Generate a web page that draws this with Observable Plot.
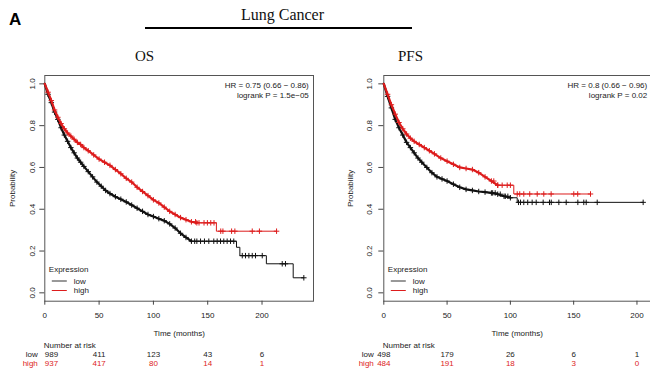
<!DOCTYPE html>
<html><head><meta charset="utf-8">
<script src="https://cdn.jsdelivr.net/npm/d3@7"></script>
<script src="https://cdn.jsdelivr.net/npm/@observablehq/plot@0.6"></script>
<style>
body{margin:0;background:#fff;}
#wrap{position:relative;width:650px;height:370px;overflow:hidden;background:#fff;}
#left,#right,#head{position:absolute;}
#left{left:0;top:60px;}
#right{left:320px;top:60px;}
#head{left:0;top:0;z-index:5;}
</style></head><body>
<div id="wrap"><div id="left"></div><div id="right"></div><svg id="head" width="650" height="64"></svg></div>
<script>
// ---------- data ----------
const xTicks = [0, 50, 100, 150, 200];
const yTicks = [0, 0.2, 0.4, 0.6, 0.8, 1.0];
const riskTimes = [0, 50, 100, 150, 200];
const groups = ["low", "high"];

// OS (overall survival)
const osLowT = [0,3,6,9,12,15,18,21,24,27,30,33,36,40,44,48,52,56,60,65,70,75,80,85,90,95,100,105,110,115,120,125,130,135,176.5,179.6,204,228.7,238.5];
const osLowS = [1.0,0.95,0.91,0.865,0.83,0.79,0.755,0.725,0.695,0.67,0.645,0.625,0.605,0.58,0.555,0.53,0.51,0.49,0.475,0.46,0.448,0.435,0.42,0.405,0.39,0.375,0.365,0.355,0.345,0.33,0.31,0.285,0.265,0.247,0.218,0.178,0.139,0.072,0.072];
const osLowCens = [138,140,143.4,147,151,155.6,158.7,161.8,164.8,167.9,171,174,181.8,184.8,187.9,191,194,200.2,218.6,221.6,238.5];
const osHighT = [0,3,6,9,12,15,18,21,24,27,30,33,36,40,45,50,55,60,65,70,75,80,85,90,95,100,105,110,115,120,125,130,135,140,158,213.4];
const osHighS = [1.0,0.96,0.92,0.875,0.84,0.81,0.785,0.765,0.75,0.735,0.72,0.71,0.695,0.68,0.66,0.64,0.625,0.61,0.59,0.57,0.548,0.53,0.505,0.485,0.465,0.445,0.43,0.41,0.39,0.375,0.36,0.35,0.34,0.335,0.295,0.295];
const osHighCens = [138.8,142,146.6,149.7,152.8,155.8,162,164,172,175,191,197.6,213.4];
const osRiskLow = [989, 411, 123, 43, 6];
const osRiskHigh = [937, 417, 80, 14, 1];
const osHR = "HR = 0.75 (0.66 \u2212 0.86)";
const osP = "logrank P = 1.5e\u221205";

// PFS (progression-free survival)
const pfsLowT = [0,3,6,9,12,15,18,21,24,27,30,34,38,42,46,50,55,60,65,70,75,80,85,90,95,100,105.4,204.9];
const pfsLowS = [1.0,0.94,0.885,0.83,0.79,0.755,0.72,0.695,0.67,0.645,0.625,0.6,0.575,0.555,0.545,0.535,0.52,0.505,0.495,0.49,0.485,0.482,0.478,0.472,0.462,0.455,0.433,0.433];
const pfsLowCens = [86,88,92,96,98,106.4,108,110.6,113.7,117.2,120.4,125.9,130.9,132.3,138.3,144.1,153.3,158,159.9,168.6,204.9];
const pfsHighT = [0,3,6,9,12,15,18,21,24,28,32,36,40,45,50,55,60,65,70,75,80,85,90,102.7,163.3];
const pfsHighS = [1.0,0.95,0.9,0.855,0.815,0.785,0.76,0.74,0.725,0.71,0.695,0.68,0.665,0.645,0.63,0.615,0.6,0.595,0.59,0.575,0.555,0.535,0.515,0.473,0.473];
const pfsHighCens = [86.9,90,93.5,97.5,100,105.4,107.4,110.6,115.3,121.2,126.4,132.2,150.1,153.2,163.3];
const pfsRiskLow = [498, 179, 26, 6, 1];
const pfsRiskHigh = [484, 191, 18, 3, 0];
const pfsHR = "HR = 0.8 (0.66 \u2212 0.96)";
const pfsP = "logrank P = 0.02";

// ---------- styling ----------
const FONT = "'Liberation Sans', Arial, Helvetica, sans-serif";
const BLACK = "#111";
const RED = "#dd1c1c";

function stepAt(T, S, t) { let v = S[0]; for (let i = 0; i < T.length; i++) { if (T[i] <= t) v = S[i]; else break; } return v; }

function km(el, cfg) {
  const curve = (T, S) => T.map((t, i) => ({t, s: S[i]}));
  const low = curve(cfg.lowT, cfg.lowS), high = curve(cfg.highT, cfg.highS);
  const head = (c, m) => c.filter(d => d.t <= m);
  const tail = (c, m) => c.filter(d => d.t >= m);
  const dense = (c, m) => c.filter((d, i) => i > 0 && d.t <= m);
  const cens = (C, T, S) => C.map(t => ({t, s: stepAt(T, S, t)}));
  const lowC = dense(low, cfg.lowDense).concat(cens(cfg.lowCens, cfg.lowT, cfg.lowS));
  const highC = dense(high, cfg.highDense).concat(cens(cfg.highCens, cfg.highT, cfg.highS));
  const rows = (arr) => riskTimes.map((t, i) => ({t, n: arr[i], i}));
  const rLow = rows(cfg.riskLow), rHigh = rows(cfg.riskHigh);
  const H = 310, mt = 15, mb = 69.3;
  const T8 = {fontSize: 8, fill: "#222", lineAnchor: "middle"};
  const chart = Plot.plot({
    width: cfg.width, height: H,
    marginLeft: cfg.ml, marginRight: cfg.mr, marginTop: mt, marginBottom: mb,
    style: {fontFamily: FONT, fontSize: "8px", color: "#222", background: "transparent", overflow: "visible"},
    x: {domain: [0, cfg.xMax], axis: null},
    y: {domain: [-0.04, 1.04], axis: null},
    marks: [
      Plot.frame({stroke: "#555", strokeWidth: 1}),
      Plot.axisX(xTicks, {tickSize: 4, tickPadding: 7, stroke: "#444", fill: "#222", fontSize: 8, label: null}),
      Plot.axisY(yTicks, {tickSize: 5, stroke: "#444", fill: "none", label: null}),
      Plot.text(yTicks, {...T8, y: d => d, text: d => d.toFixed(1), frameAnchor: "left", dx: cfg.yLabDx, rotate: -90, textAnchor: "middle"}),
      Plot.text(["Probability"], {...T8, frameAnchor: "left", dx: cfg.probDx, rotate: -90, textAnchor: "middle"}),
      Plot.text(["Time (months)"], {...T8, frameAnchor: "bottom", dy: 32.7, textAnchor: "middle"}),
      // curves: dense early part (many small steps) and visible step tail
      Plot.line(head(low, cfg.lowDense), {x: "t", y: "s", curve: "linear", stroke: BLACK, strokeWidth: 2.2}),
      Plot.line(tail(low, cfg.lowDense), {x: "t", y: "s", curve: "step-after", stroke: BLACK, strokeWidth: 1}),
      Plot.dot(lowC, {x: "t", y: "s", symbol: "plus", r: 1.9, stroke: BLACK, strokeWidth: 1}),
      Plot.line(head(high, cfg.highDense), {x: "t", y: "s", curve: "linear", stroke: RED, strokeWidth: 2.2}),
      Plot.line(tail(high, cfg.highDense), {x: "t", y: "s", curve: "step-after", stroke: RED, strokeWidth: 1}),
      Plot.dot(highC, {x: "t", y: "s", symbol: "plus", r: 1.9, stroke: RED, strokeWidth: 1}),
      // HR text
      Plot.text([cfg.hr], {...T8, frameAnchor: "top-right", dx: cfg.hrDx, dy: 10.4, textAnchor: "end"}),
      Plot.text([cfg.p], {...T8, frameAnchor: "top-right", dx: cfg.hrDx, dy: 19.6, textAnchor: "end"}),
      // legend text
      Plot.text(["Expression"], {...T8, frameAnchor: "bottom-left", dx: 4, dy: -31.8, textAnchor: "start"}),
      Plot.text([groups[0]], {...T8, frameAnchor: "bottom-left", dx: 29, dy: -19.7, textAnchor: "start"}),
      Plot.text([groups[1]], {...T8, frameAnchor: "bottom-left", dx: 29, dy: -10.4, textAnchor: "start"}),
      // number at risk
      Plot.text(["Number at risk"], {...T8, frameAnchor: "bottom-left", dx: -1, dy: 44, textAnchor: "start"}),
      Plot.text([groups[0]], {...T8, frameAnchor: "bottom-left", dx: cfg.rowDx, dy: 53.6, textAnchor: "end"}),
      Plot.text([groups[1]], {...T8, frameAnchor: "bottom-left", dx: cfg.rowDx, dy: 62.4, textAnchor: "end", fill: RED}),
      Plot.text(rLow.filter(d => d.i === 0), {...T8, x: "t", text: "n", frameAnchor: "bottom", dy: 53.6, textAnchor: cfg.firstAnchor}),
      Plot.text(rLow.filter(d => d.i > 0), {...T8, x: "t", text: "n", frameAnchor: "bottom", dy: 53.6, textAnchor: "middle"}),
      Plot.text(rHigh.filter(d => d.i === 0), {...T8, x: "t", text: "n", frameAnchor: "bottom", dy: 62.4, textAnchor: cfg.firstAnchor, fill: RED}),
      Plot.text(rHigh.filter(d => d.i > 0), {...T8, x: "t", text: "n", frameAnchor: "bottom", dy: 62.4, textAnchor: "middle", fill: RED})
    ]
  });
  // legend line keys
  const fb = H - mb, fl = cfg.ml;
  const svg = d3.select(chart);
  [["#333", -19.7], [RED, -10.2]].forEach(([c, dy]) => {
    svg.append("line").attr("x1", fl + 7.5).attr("x2", fl + 22.5)
      .attr("y1", fb + dy).attr("y2", fb + dy)
      .attr("stroke", c).attr("stroke-width", 1);
  });
  document.getElementById(el).appendChild(chart);
}

km("left", {
  width: 320, ml: 44.3, mr: 7, xMax: 247.4, lowDense: 135, highDense: 140,
  lowT: osLowT, lowS: osLowS, lowCens: osLowCens,
  highT: osHighT, highS: osHighS, highCens: osHighCens,
  riskLow: osRiskLow, riskHigh: osRiskHigh, hr: osHR, p: osP,
  yLabDx: -12.5, probDx: -32.6, hrDx: -4.7, rowDx: -7, firstAnchor: "start"
});
km("right", {
  width: 330, ml: 63.3, mr: 0, xMax: 210.7, lowDense: 100, highDense: 90,
  lowT: pfsLowT, lowS: pfsLowS, lowCens: pfsLowCens,
  highT: pfsHighT, highS: pfsHighS, highCens: pfsHighCens,
  riskLow: pfsRiskLow, riskHigh: pfsRiskHigh, hr: pfsHR, p: pfsP,
  yLabDx: -14.5, probDx: -33.3, hrDx: -3.3, rowDx: -10, firstAnchor: "middle"
});

// ---------- header ----------
const head = d3.select("#head");
head.append("text").attr("x", 9).attr("y", 25).text("A")
  .attr("font-family", "'Liberation Sans Narrow', 'Liberation Sans', Arial, sans-serif")
  .attr("font-weight", "bold").attr("font-size", 17).attr("fill", "#000");
head.append("text").attr("x", 282.5).attr("y", 19.5).attr("text-anchor", "middle").text("Lung Cancer")
  .attr("font-family", "'Liberation Serif', 'Times New Roman', serif").attr("font-size", 16).attr("fill", "#111");
head.append("line").attr("x1", 145).attr("x2", 412).attr("y1", 28).attr("y2", 28)
  .attr("stroke", "#000").attr("stroke-width", 2);
[["OS", 144.5], ["PFS", 410.5]].forEach(([t, x]) => {
  head.append("text").attr("x", x).attr("y", 60.5).attr("text-anchor", "middle").text(t)
    .attr("font-family", "'Liberation Serif', 'Times New Roman', serif").attr("font-size", 15).attr("fill", "#111");
});
</script>
</body></html>
